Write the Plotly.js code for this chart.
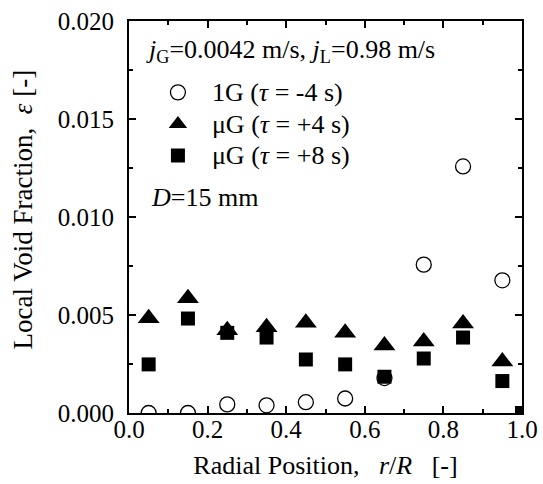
<!DOCTYPE html>
<html>
<head>
<meta charset="utf-8">
<script src="https://cdn.plot.ly/plotly-3.0.1.min.js"></script>
<style>html,body{margin:0;padding:0;background:#fff;}#chart{width:543px;height:484px;}</style>
</head>
<body>
<div id="chart"></div>
<script>
// Radial positions r/R
const radial = [0.05, 0.15, 0.25, 0.35, 0.45, 0.55, 0.65, 0.75, 0.85, 0.95];
const radialSq = [0.05, 0.15, 0.25, 0.35, 0.45, 0.55, 0.65, 0.75, 0.85, 0.95, 1.0];
// Local void fraction values
const void1G = [0.0000, 0.0000, 0.00044, 0.00039, 0.00055, 0.00074, 0.00178, 0.00757, 0.01258, 0.00677];
const voidMuG4 = [0.00483, 0.00585, 0.00422, 0.00438, 0.00461, 0.00409, 0.00344, 0.00365, 0.00456, 0.00263];
const voidMuG8 = [0.00248, 0.00482, 0.00409, 0.00385, 0.00273, 0.00248, 0.00185, 0.00278, 0.00385, 0.00163, 0.0000];
// Labels
const seriesNames = ['1G (<i>τ</i> = -4 s)', 'μG (<i>τ</i> = +4 s)', 'μG (<i>τ</i> = +8 s)'];
const headerText = '<i>j</i><sub>G</sub>=0.0042 m/s, <i>j</i><sub>L</sub>=0.98 m/s';
const xTitle = 'Radial Position,   <i>r</i>/<i>R</i>   [-]';
const yTitle = 'Local Void Fraction,  <i>ε</i> [-]';
const noteText = '<i>D</i>=15 mm';

const FONT = 'Liberation Serif, Times New Roman, serif';
const TXT = 26;
const big = s => '<span style="font-size:' + TXT + 'px">' + s + '</span>';

const traces = [
  {x: radial, y: void1G, name: big(seriesNames[0]), mode: 'markers', type: 'scatter', cliponaxis: true,
   marker: {symbol: 'circle-open', size: 15, color: '#000', line: {width: 1.3, color: '#000'}}},
  {x: radial, y: voidMuG4, name: big(seriesNames[1]), mode: 'markers', type: 'scatter', cliponaxis: true,
   marker: {symbol: 'triangle-up', size: 19, color: '#000'}},
  {x: radialSq, y: voidMuG8, name: big(seriesNames[2]), mode: 'markers', type: 'scatter', cliponaxis: true,
   marker: {symbol: 'square', size: 14, color: '#000'}}
];

const axisCommon = {
  showline: true, linecolor: '#000', linewidth: 2, mirror: 'allticks',
  ticks: 'inside', ticklen: 7, tickwidth: 2, tickcolor: '#000',
  showgrid: false, zeroline: false,
  tickfont: {family: FONT, size: 25, color: '#000'}
};

const layout = {
  width: 543, height: 484,
  margin: {l: 129, r: 20.5, t: 21, b: 70.5},
  paper_bgcolor: '#fff', plot_bgcolor: '#fff',
  font: {family: FONT, size: 24, color: '#000'},
  showlegend: true,
  legend: {
    x: 0.038, y: 0.871, xanchor: 'left', yanchor: 'top',
    bgcolor: 'rgba(0,0,0,0)', borderwidth: 0,
    font: {family: FONT, size: 22, color: '#000'},
    itemsizing: 'trace', tracegroupgap: 0, itemwidth: 58
  },
  xaxis: Object.assign({}, axisCommon, {
    range: [0, 1], dtick: 0.2, tick0: 0, tickformat: '.1f',
    minor: {dtick: 0.1, ticklen: 4, tickwidth: 2, tickcolor: '#000', ticks: 'inside', showgrid: false},
    ticklabelstandoff: -7,
    title: {text: xTitle, font: {family: FONT, size: TXT, color: '#000'}, standoff: 14}
  }),
  yaxis: Object.assign({}, axisCommon, {
    range: [0, 0.02], dtick: 0.005, tick0: 0, tickformat: '.3f',
    minor: {dtick: 0.0025, ticklen: 4, tickwidth: 2, tickcolor: '#000', ticks: 'inside', showgrid: false},
    ticklabelstandoff: 8
  }),
  annotations: [
    {text: headerText, xref: 'paper', yref: 'paper', x: 0.039, y: 0.923,
     showarrow: false, font: {family: FONT, size: TXT, color: '#000'}, xanchor: 'left', yanchor: 'middle'},
    {text: yTitle, xref: 'paper', yref: 'paper', x: -0.269, y: 0.52, textangle: -90,
     showarrow: false, font: {family: FONT, size: 27, color: '#000'}, xanchor: 'center', yanchor: 'middle'},
    {text: noteText, xref: 'paper', yref: 'paper', x: 0.05, y: 0.549,
     showarrow: false, font: {family: FONT, size: TXT, color: '#000'}, xanchor: 'left', yanchor: 'middle'}
  ]
};

Plotly.newPlot('chart', traces, layout, {displayModeBar: false, staticPlot: true});
</script>
</body>
</html>
